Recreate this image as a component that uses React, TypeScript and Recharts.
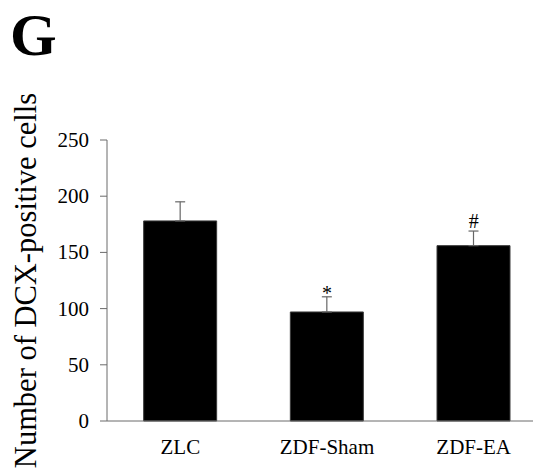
import React from "react";
import { ComposedChart, Bar, Line, XAxis, YAxis, ErrorBar } from "recharts";

const categories = ["ZLC", "ZDF-Sham", "ZDF-EA"];
const means = [178, 97, 156];
const errors = [17, 13.5, 13];
const marks = ["", "*", "#"];
const yTicks = [0, 50, 100, 150, 200, 250];

const data = categories.map((c, i) => ({
  name: c,
  value: means[i],
  err: [0, errors[i]],
  top: means[i] + errors[i],
  mark: marks[i],
}));

const FONT = "'Liberation Serif', 'Times New Roman', 'DejaVu Serif', serif";
const AXIS = "#6b6b6b";
const markDy: Record<string, number> = { "*": 3, "#": -3 };

const renderMark = (props: any) => {
  const { x, y, index } = props;
  const m = marks[index];
  if (!m) return null;
  return (
    <text
      x={x}
      y={y + (markDy[m] ?? 0)}
      textAnchor="middle"
      style={{ fontFamily: FONT, fontSize: 20, fill: "#000" }}
    >
      {m}
    </text>
  );
};

const renderYLabel = () => {
  const cx = 28;
  const cy = 272.5;
  return (
    <text
      x={cx}
      y={cy}
      transform={`rotate(-90, ${cx}, ${cy})`}
      textAnchor="middle"
      style={{ fontFamily: FONT, fontSize: 30.5, fill: "#000" }}
    >
      Number of DCX-positive cells
    </text>
  );
};

const renderTick = (anchor: "end" | "middle", dyShift: number) => (props: any) => {
  const { x, y, payload } = props;
  return (
    <text
      x={x}
      y={y + dyShift}
      textAnchor={anchor}
      style={{ fontFamily: FONT, fontSize: 21, fill: "#000" }}
    >
      {payload.value}
    </text>
  );
};

export default function App() {
  return (
    <div style={{ position: "relative", width: 533, height: 466, fontFamily: FONT }}>
      <div style={{ position: "absolute", left: 0, top: 0, width: 533, height: 466, overflow: "hidden" }}>
        <ComposedChart
          width={539}
          height={466}
          data={data}
          margin={{ top: 132, right: 0, bottom: 0, left: 0 }}
          barCategoryGap="25%"
        >
          <XAxis
            dataKey="name"
            height={53}
            tickLine={false}
            tickSize={0}
            tickMargin={18}
            axisLine={{ stroke: AXIS, strokeWidth: 1 }}
            tick={renderTick("middle", 15)}
            interval={0}
          />
          <YAxis
            width={99}
            domain={[0, 250]}
            ticks={yTicks}
            interval={0}
            tickSize={7}
            tickMargin={11}
            axisLine={{ stroke: AXIS, strokeWidth: 1 }}
            tickLine={{ stroke: AXIS, strokeWidth: 1 }}
            tick={renderTick("end", 7)}
            label={renderYLabel}
          />
          <Bar dataKey="value" fill="#000" stroke="#3a3a3a" strokeWidth={1} isAnimationActive={false}>
            <ErrorBar dataKey="err" width={5} stroke="#666" strokeWidth={1.2} direction="y" />
          </Bar>
          <Line
            dataKey="top"
            stroke="none"
            dot={false}
            activeDot={false}
            isAnimationActive={false}
            label={renderMark}
          />
        </ComposedChart>
      </div>
      <svg
        width={100}
        height={80}
        style={{ position: "absolute", left: -8, top: -8, overflow: "visible" }}
      >
        <text x={10} y={55} style={{ fontFamily: FONT, fontWeight: "bold", fontSize: 60, fill: "#000" }}>
          G
        </text>
      </svg>
    </div>
  );
}
